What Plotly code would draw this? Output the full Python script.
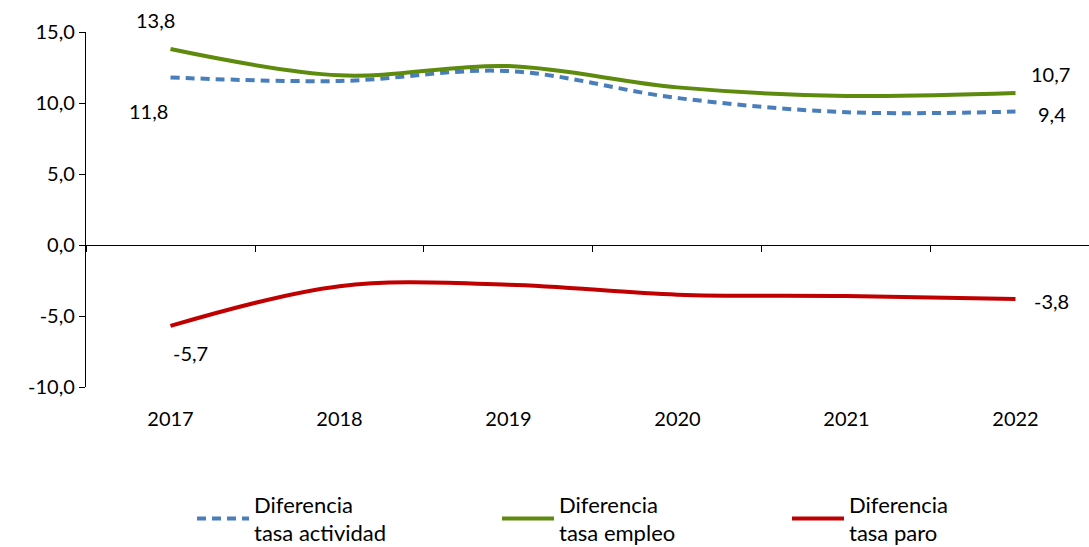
import plotly.graph_objects as go

years = ["2017", "2018", "2019", "2020", "2021", "2022"]
dif_actividad = [11.8, 11.55, 12.25, 10.35, 9.35, 9.4]
dif_empleo = [13.8, 11.95, 12.6, 11.1, 10.5, 10.7]
dif_paro = [-5.7, -2.9, -2.8, -3.5, -3.6, -3.8]
y_ticks = [-10, -5, 0, 5, 10, 15]

FONT = "Lato"

fig = go.Figure()

fig.add_trace(go.Scatter(x=years, y=dif_actividad, mode="lines", name="Diferencia<br>tasa actividad",
                         legend="legend",
                         line=dict(color="#4a7ebb", width=4, dash="9px,6px", shape="spline", smoothing=1.0)))
fig.add_trace(go.Scatter(x=years, y=dif_empleo, mode="lines", name="Diferencia<br>tasa empleo",
                         legend="legend2",
                         line=dict(color="#5e8a0e", width=4, shape="spline", smoothing=1.0)))
fig.add_trace(go.Scatter(x=years, y=dif_paro, mode="lines", name="Diferencia<br>tasa paro",
                         legend="legend3",
                         line=dict(color="#c00000", width=4, shape="spline", smoothing=1.0)))

# overlay axis that draws the zero line with boundary ticks
fig.add_trace(go.Scatter(x=years, y=[None] * 6, xaxis="x2", showlegend=False, hoverinfo="skip"))

def fmt(v):
    return f"{v:.1f}".replace(".", ",")

# data labels: (series, index, xshift, yshift)
labels = [
    (dif_empleo, 0, -15, 29),
    (dif_actividad, 0, -22, -34),
    (dif_paro, 0, 20, -27),
    (dif_empleo, 5, 35, 19),
    (dif_actividad, 5, 37, -2),
    (dif_paro, 5, 36, -2),
]
for serie, i, dx, dy in labels:
    # category index, since "2017"-like strings are read as indices
    fig.add_annotation(x=i, y=serie[i], xref="x", yref="y", text=fmt(serie[i]),
                       showarrow=False, xshift=dx, yshift=dy,
                       font=dict(size=20, color="#000000", family=FONT))

leg = dict(orientation="v", xref="paper", xanchor="left", yref="container", y=1 - 519 / 547,
           yanchor="middle", itemwidth=52, borderwidth=0,
           font=dict(size=22, family=FONT, color="#000000"), bgcolor="rgba(0,0,0,0)")

def px2paper(px):
    return (px - 86) / 1003

fig.update_layout(
    width=1089, height=547,
    margin=dict(l=86, r=0, t=32, b=160, autoexpand=False),
    paper_bgcolor="white", plot_bgcolor="white",
    separators=",.",
    font=dict(family=FONT, size=20, color="#000000"),
    xaxis=dict(type="category", range=[-0.5, 5.435], showline=False, showgrid=False,
               ticks="", ticklabelstandoff=18, zeroline=False),
    xaxis2=dict(type="category", overlaying="x", anchor="free", position=0.4,
                range=[-0.5, 5.435], showline=True, linecolor="#000000", linewidth=1.3,
                ticks="outside", tickson="boundaries", ticklen=6, tickcolor="#000000",
                showticklabels=False, showgrid=False),
    yaxis=dict(range=[-10, 15], tickvals=y_ticks,
               ticktext=[fmt(v) for v in y_ticks],
               showline=True, linecolor="#000000", linewidth=1.3, ticks="outside", ticklen=6,
               tickcolor="#000000", showgrid=False, zeroline=False),
    legend=dict(leg, x=px2paper(192)),
    legend2=dict(leg, x=px2paper(497)),
    legend3=dict(leg, x=px2paper(787)),
    showlegend=True,
)

fig.write_html("out.html", config={"displayModeBar": False},
               post_script="document.body.style.margin='0';")
